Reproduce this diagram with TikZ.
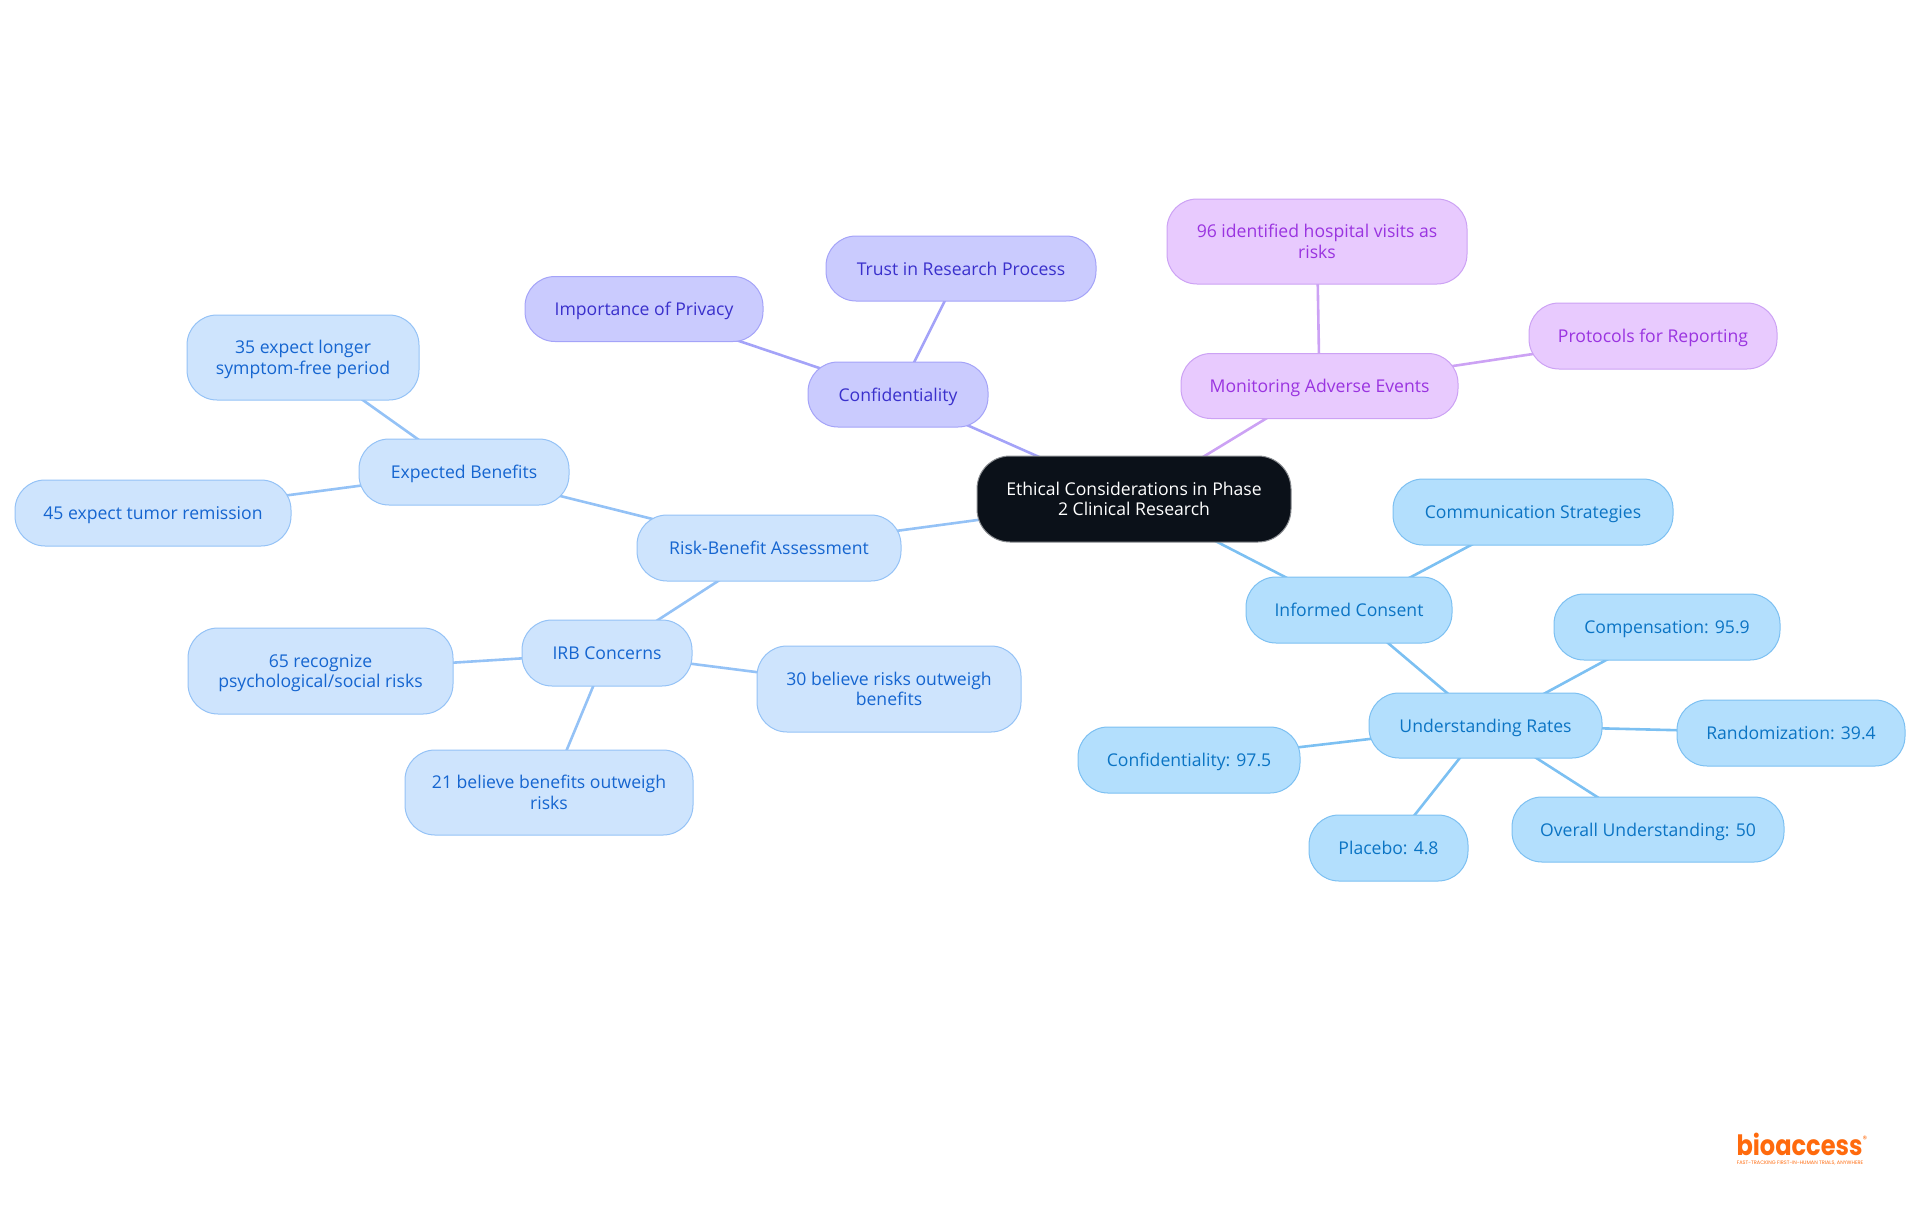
\documentclass[tikz,border=0pt]{standalone}
\usepackage{fontspec}
\setmainfont{Open Sans}
\newfontfamily\logofont{Poppins}
\usetikzlibrary{backgrounds}
\definecolor{rootfill}{HTML}{0B1119}
\definecolor{rootline}{HTML}{8A8D91}
\definecolor{skyfill}{HTML}{B3DFFD}
\definecolor{skyline}{HTML}{7CC0F2}
\definecolor{skytext}{HTML}{0B74C4}
\definecolor{bluefill}{HTML}{CEE4FD}
\definecolor{blueline}{HTML}{94C2F6}
\definecolor{bluetext}{HTML}{1565D0}
\definecolor{indfill}{HTML}{CACBFE}
\definecolor{indline}{HTML}{A4A3F8}
\definecolor{indtext}{HTML}{3A30CC}
\definecolor{purfill}{HTML}{E8CAFE}
\definecolor{purline}{HTML}{CCA2F4}
\definecolor{purtext}{HTML}{9A34E0}
\definecolor{logoorange}{HTML}{FF6A0D}
\newcommand\topprop{\rule{0pt}{9.5pt}}
\newcommand\botprop{\rule[-3pt]{0pt}{3pt}}
\newcommand\pairlines[2]{\raisebox{-0.2pt}[0pt][0pt]{\begin{tabular}{@{}c@{}}#1\\#2\end{tabular}}}
\tikzset{
  x=0.5pt,y=-0.5pt,
  box/.style n args={2}{shape=rectangle,rounded corners=15pt,minimum width=#1*0.5pt,minimum height=#2*0.5pt,inner sep=0pt,line width=0.5pt,font=\fontsize{8.8}{10.2}\selectfont,execute at begin node=\topprop,execute at end node=\botprop},
  rootbox/.style={fill=rootfill,draw=rootline,text=white,rounded corners=16.5pt},
  skybox/.style={fill=skyfill,draw=skyline,text=skytext},
  bluebox/.style={fill=bluefill,draw=blueline,text=bluetext},
  indbox/.style={fill=indfill,draw=indline,text=indtext},
  purbox/.style={fill=purfill,draw=purline,text=purtext},
  skylink/.style={draw=skyline,line width=1.3pt},
  bluelink/.style={draw=blueline,line width=1.3pt},
  indlink/.style={draw=indline,line width=1.3pt},
  purlink/.style={draw=purline,line width=1.3pt},
}
\begin{document}
\begin{tikzpicture}
\useasboundingbox (0,0) rectangle (1920,1215);
\node[box={314}{86},rootbox] (root) at (1134,499) {\pairlines{Ethical Considerations in Phase}{2 Clinical Research}};
% indigo
\node[box={180}{65},indbox] (conf) at (898,394.5) {Confidentiality};
\node[box={270}{65},indbox] (trust) at (961,268.5) {Trust in Research Process};
\node[box={238}{65},indbox] (priv) at (644,309) {Importance of Privacy};
% purple
\node[box={277}{65},purbox] (mon) at (1319.5,386) {Monitoring Adverse Events};
\node[box={300}{85},purbox] (hosp) at (1317,241.5) {\pairlines{96 identified hospital visits as}{risks}};
\node[box={248}{66},purbox] (prot) at (1653,336) {Protocols for Reporting};
% sky
\node[box={206}{66},skybox] (cons) at (1349,610) {Informed Consent};
\node[box={280}{66},skybox] (comm) at (1533,512) {Communication Strategies};
\node[box={233}{65},skybox] (und) at (1485.5,725.5) {Understanding Rates};
\node[box={226}{66},skybox] (comp) at (1667,627) {Compensation: 95.9};
\node[box={228}{66},skybox] (rand) at (1791,733) {Randomization: 39.4};
\node[box={272}{65},skybox] (over) at (1648,829.5) {Overall Understanding: 50};
\node[box={159}{66},skybox] (plac) at (1388.5,848) {Placebo: 4.8};
\node[box={222}{66},skybox] (cnum) at (1189,760) {Confidentiality: 97.5};
% blue
\node[box={264}{66},bluebox] (risk) at (769,548) {Risk-Benefit Assessment};
\node[box={210}{66},bluebox] (exp) at (464,472) {Expected Benefits};
\node[box={232}{85},bluebox] (sympt) at (303,357.5) {\pairlines{35 expect longer}{symptom-free period}};
\node[box={276}{66},bluebox] (tumor) at (153,513) {45 expect tumor remission};
\node[box={170}{66},bluebox] (irb) at (607,653) {IRB Concerns};
\node[box={265}{86},bluebox] (psy) at (320.5,671) {\pairlines{65 recognize}{psychological/social risks}};
\node[box={264}{86},bluebox] (out) at (889,689) {\pairlines{30 believe risks outweigh}{benefits}};
\node[box={288}{85},bluebox] (ben) at (549,792.5) {\pairlines{21 believe benefits outweigh}{risks}};
% logo
\node[inner sep=0pt,anchor=base,transform shape,xscale=0.86,text depth=0pt,text=logoorange,font=\logofont\bfseries\fontsize{14}{14}\selectfont] (logo) at (1799.5,1155) {bioaccess};
\node[inner sep=0pt,text height=1.8pt,text depth=0pt,text=logoorange,font=\logofont\fontsize{2.5}{2.5}\selectfont] (tag) at (1800,1162.5) {FAST-TRACKING FIRST-IN-HUMAN TRIALS, ANYWHERE};
\node[inner sep=0pt,text=logoorange,font=\logofont\fontsize{4.5}{4.5}\selectfont] (reg) at (1865,1139) {®};
\begin{pgfonlayer}{background}
\draw[indlink] (root.center)--(conf.center) (conf.center)--(trust.center) (conf.center)--(priv.center);
\draw[purlink] (root.center)--(mon.center) (mon.center)--(hosp.center) (mon.center)--(prot.center);
\draw[skylink] (root.center)--(cons.center) (cons.center)--(comm.center) (cons.center)--(und.center)
  (und.center)--(comp.center) (und.center)--(rand.center) (und.center)--(over.center) (und.center)--(plac.center) (und.center)--(cnum.center);
\draw[bluelink] (root.center)--(risk.center) (risk.center)--(exp.center) (exp.center)--(sympt.center) (exp.center)--(tumor.center)
  (risk.center)--(irb.center) (irb.center)--(psy.center) (irb.center)--(out.center) (irb.center)--(ben.center);
\end{pgfonlayer}
\end{tikzpicture}
\end{document}
